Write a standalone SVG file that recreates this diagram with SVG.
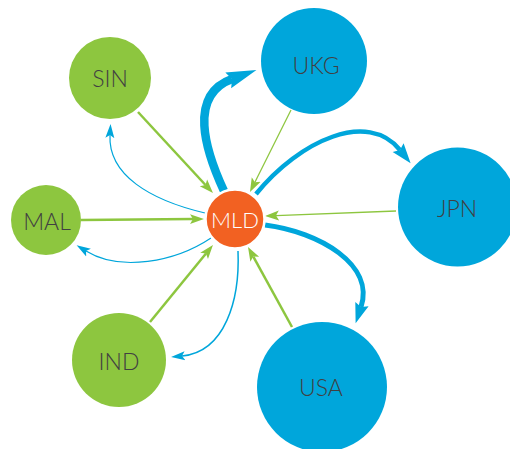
<svg xmlns="http://www.w3.org/2000/svg" width="510" height="449" viewBox="0 0 510 449">
<style>
.g{fill:#8DC63F}
.b{fill:#00A6DB}
.o{fill:#F26122;stroke:#fff;stroke-width:2.5}
.lg{fill:none;stroke:#8DC63F}
.lb{fill:none;stroke:#00A6DB}
text{font-family:Lato,"Open Sans","Liberation Sans",sans-serif;font-size:23px;font-weight:300;text-anchor:middle;fill:#414042}
.w{fill:#fff;font-size:22px}
</style>
<defs>
<marker id="ag" markerUnits="userSpaceOnUse" markerWidth="16" markerHeight="12" viewBox="0 -6 16 12" refX="3" refY="0" orient="auto">
<path d="M0,-5 L14,0 L0,5 L3,0 z" fill="#8DC63F"/>
</marker>
<marker id="abL" markerUnits="userSpaceOnUse" markerWidth="34" markerHeight="20" viewBox="0 -10 34 20" refX="4" refY="0" orient="auto">
<path d="M0,-8.5 L30,0 L0,8.5 L4,0 z" fill="#00A6DB"/>
</marker>
<marker id="abM" markerUnits="userSpaceOnUse" markerWidth="24" markerHeight="18" viewBox="0 -9 24 18" refX="3" refY="0" orient="auto">
<path d="M0,-7 L20,0 L0,7 L3,0 z" fill="#00A6DB"/>
</marker>
<marker id="abS" markerUnits="userSpaceOnUse" markerWidth="16" markerHeight="12" viewBox="0 -6 16 12" refX="3" refY="0" orient="auto">
<path d="M0,-4.5 L14,0 L0,4.5 L3,0 z" fill="#00A6DB"/>
</marker>
</defs>
<g id="connectors">
<path class="lg" stroke-width="2.5" d="M138,112 L205.5,185" marker-end="url(#ag)"/>
<path class="lg" stroke-width="1.3" d="M291,110 L254.9,182.2" marker-end="url(#ag)"/>
<path class="lg" stroke-width="1.3" d="M396,211 L276,215.6" marker-end="url(#ag)"/>
<path class="lg" stroke-width="2.5" d="M292,327 L253.3,256.6" marker-end="url(#ag)"/>
<path class="lg" stroke-width="2.5" d="M150,322 L206,253.5" marker-end="url(#ag)"/>
<path class="lg" stroke-width="2.5" d="M81,220 L193,219.1" marker-end="url(#ag)"/>
<path class="lb" stroke-width="8.5" d="M224,191 C205,150 188,95 232,79" marker-end="url(#abL)"/>
<path class="lb" stroke-width="4.5" d="M256,194 C300,140 368,110 400,150" marker-end="url(#abM)"/>
<path class="lb" stroke-width="5" d="M265,225 C320,232 375,265 361,307" marker-end="url(#abM)"/>
<path class="lb" stroke-width="1.2" d="M205,213 C150,200 108,175 110,135" marker-end="url(#abS)"/>
<path class="lb" stroke-width="1.2" d="M211,238 C175,262 120,272 86,251" marker-end="url(#abS)"/>
<path class="lb" stroke-width="1.5" d="M238,251 C240,300 225,352 182,356" marker-end="url(#abS)"/>
</g>
<g id="SIN"><circle class="g" cx="110" cy="78" r="41"/><text x="110" y="87">SIN</text></g>
<g id="UKG"><circle class="b" cx="314" cy="61" r="53"/><text x="316" y="74">UKG</text></g>
<g id="JPN"><circle class="b" cx="457.5" cy="207" r="59.5"/><text x="457" y="217">JPN</text></g>
<g id="MAL"><circle class="g" cx="46" cy="220" r="35"/><text x="47" y="230">MAL</text></g>
<g id="IND"><circle class="g" cx="119" cy="360" r="47"/><text x="119" y="370">IND</text></g>
<g id="USA"><circle class="b" cx="322" cy="387" r="65"/><text x="321" y="396">USA</text></g>
<g id="MLD"><circle class="o" cx="235" cy="219" r="29.5"/><text class="w" x="235" y="228">MLD</text></g>
</svg>
